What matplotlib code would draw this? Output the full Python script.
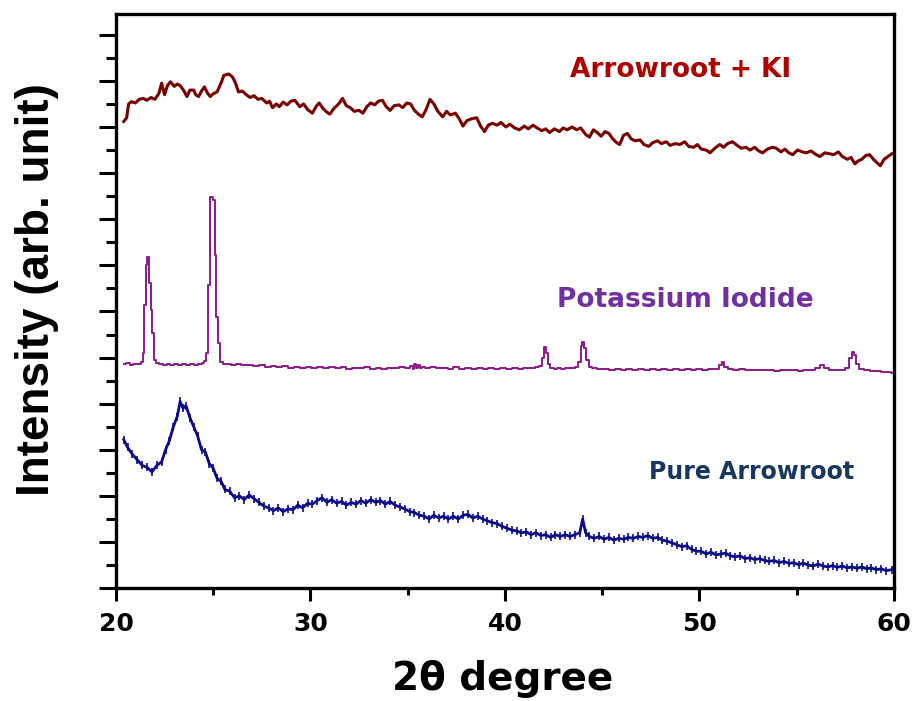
import matplotlib.pyplot as plt
from matplotlib.ticker import MultipleLocator

# 2theta (deg) and intensity (arb. unit, stacked)
ki_mix_x = [20.4, 20.55, 20.65, 20.8, 21.0, 21.2, 21.4, 21.6, 21.8, 22.0,
            22.2, 22.35, 22.5, 22.65, 22.8, 23.0, 23.15, 23.3, 23.5, 23.65,
            23.8, 24.0, 24.1, 24.25, 24.4, 24.55, 24.7, 24.85, 25.0, 25.2,
            25.4, 25.55, 25.8, 26.0, 26.15, 26.3, 26.5, 26.7, 26.9, 27.1,
            27.3, 27.5, 27.75, 27.9, 28.05, 28.25, 28.4, 28.6, 28.8, 29.0,
            29.2, 29.45, 29.65, 29.85, 30.1, 30.3, 30.45, 30.65, 30.85, 31.0,
            31.2, 31.45, 31.65, 31.85, 32.05, 32.25, 32.5, 32.7, 32.9, 33.1,
            33.3, 33.5, 33.7, 33.9, 34.1, 34.3, 34.55, 34.75, 34.95, 35.15,
            35.35, 35.55, 35.75, 35.95, 36.15, 36.35, 36.55, 36.8, 37.0, 37.2,
            37.45, 37.65, 37.85, 38.05, 38.3, 38.55, 38.75, 38.95, 39.15, 39.35,
            39.6, 39.8, 40.05, 40.25, 40.5, 40.75, 41.0, 41.2, 41.45, 41.65,
            41.9, 42.1, 42.3, 42.55, 42.8, 43.0, 43.2, 43.45, 43.7, 43.9,
            44.15, 44.35, 44.55, 44.75, 44.95, 45.15, 45.35, 45.55, 45.75, 45.9,
            46.1, 46.3, 46.5, 46.7, 46.95, 47.15, 47.4, 47.6, 47.85, 48.05,
            48.3, 48.5, 48.75, 49.0, 49.25, 49.45, 49.7, 49.9, 50.1, 50.35,
            50.55, 50.8, 51.05, 51.25, 51.45, 51.7, 51.95, 52.15, 52.4, 52.6,
            52.85, 53.05, 53.25, 53.5, 53.75, 53.95, 54.2, 54.4, 54.6, 54.8,
            55.05, 55.3, 55.5, 55.75, 56.0, 56.2, 56.45, 56.7, 56.9, 57.15,
            57.35, 57.6, 57.8, 58.0, 58.15, 58.35, 58.55, 58.75, 58.95, 59.15,
            59.3, 59.5, 59.7, 59.9]
ki_mix_y = [10.12, 10.2, 10.5, 10.55, 10.52, 10.6, 10.62, 10.58, 10.64, 10.6,
            10.72, 10.95, 10.7, 10.9, 10.98, 10.88, 10.93, 10.9, 10.78, 10.66,
            10.8, 10.8, 10.7, 10.66, 10.78, 10.87, 10.74, 10.66, 10.72, 10.76,
            10.95, 11.12, 11.15, 11.08, 10.95, 10.76, 10.78, 10.7, 10.64, 10.68,
            10.6, 10.62, 10.52, 10.56, 10.42, 10.5, 10.44, 10.54, 10.48, 10.56,
            10.58, 10.44, 10.5, 10.38, 10.3, 10.45, 10.52, 10.4, 10.32, 10.28,
            10.4, 10.5, 10.62, 10.46, 10.42, 10.34, 10.36, 10.3, 10.44, 10.52,
            10.48, 10.56, 10.58, 10.44, 10.36, 10.46, 10.48, 10.42, 10.52, 10.5,
            10.36, 10.28, 10.22, 10.38, 10.6, 10.5, 10.34, 10.22, 10.34, 10.26,
            10.3, 10.18, 10.02, 10.14, 10.18, 10.2, 10.02, 9.9, 10.04, 10.08,
            10.04, 10.1, 10.0, 10.06, 9.98, 9.94, 10.02, 9.96, 10.04, 9.98,
            9.92, 9.96, 9.88, 9.96, 9.9, 9.98, 9.94, 10.0, 9.94, 9.98,
            9.84, 9.78, 9.94, 9.88, 9.8, 9.9, 9.86, 9.74, 9.66, 9.62,
            9.82, 9.86, 9.74, 9.7, 9.72, 9.62, 9.58, 9.66, 9.7, 9.64,
            9.68, 9.6, 9.64, 9.62, 9.68, 9.58, 9.56, 9.62, 9.52, 9.5,
            9.44, 9.54, 9.62, 9.56, 9.64, 9.68, 9.6, 9.54, 9.56, 9.5,
            9.56, 9.48, 9.44, 9.52, 9.56, 9.54, 9.46, 9.52, 9.44, 9.4,
            9.5, 9.46, 9.44, 9.48, 9.4, 9.36, 9.44, 9.42, 9.4, 9.46,
            9.36, 9.3, 9.34, 9.2, 9.26, 9.3, 9.38, 9.4, 9.3, 9.22,
            9.16, 9.3, 9.36, 9.42]

ki_x = [20.4, 20.6, 20.8, 21.0, 21.2, 21.35, 21.39, 21.49, 21.59, 21.65,
        21.75, 21.85, 21.9, 22.0, 22.1, 22.3, 22.5, 22.7, 22.9, 23.1,
        23.3, 23.5, 23.7, 23.9, 24.1, 24.3, 24.5, 24.6, 24.68, 24.78,
        24.94, 25.04, 25.14, 25.19, 25.3, 25.45, 25.6, 25.8, 26.0, 26.3,
        26.6, 26.9, 27.2, 27.5, 27.8, 28.1, 28.4, 28.7, 29.0, 29.3,
        29.6, 29.9, 30.2, 30.5, 30.8, 31.1, 31.4, 31.7, 32.0, 32.3,
        32.6, 32.9, 33.2, 33.5, 33.8, 34.1, 34.4, 34.7, 35.0, 35.2,
        35.3, 35.4, 35.5, 35.6, 35.7, 35.8, 36.0, 36.3, 36.6, 36.9,
        37.2, 37.5, 37.8, 38.1, 38.4, 38.7, 39.0, 39.3, 39.6, 39.9,
        40.2, 40.5, 40.8, 41.1, 41.4, 41.7, 41.85, 41.95, 42.06, 42.15,
        42.25, 42.4, 42.6, 42.8, 43.0, 43.2, 43.5, 43.7, 43.85, 43.95,
        44.02, 44.12, 44.25, 44.4, 44.6, 44.9, 45.2, 45.5, 45.8, 46.1,
        46.4, 46.7, 47.0, 47.3, 47.6, 47.9, 48.2, 48.5, 48.8, 49.1,
        49.4, 49.7, 50.0, 50.3, 50.6, 50.9, 51.1, 51.2, 51.35, 51.6,
        51.9, 52.2, 52.5, 52.8, 53.1, 53.4, 53.7, 54.0, 54.3, 54.6,
        54.9, 55.2, 55.5, 55.8, 56.1, 56.3, 56.5, 56.8, 57.1, 57.4,
        57.6, 57.75, 57.9, 58.0, 58.15, 58.3, 58.6, 58.9, 59.2, 59.5,
        59.8, 59.95]
ki_y = [4.86, 4.88, 4.84, 4.87, 4.86, 4.9, 5.1, 6.14, 7.01, 7.18,
        6.62, 6.03, 5.53, 4.95, 4.88, 4.86, 4.84, 4.87, 4.84, 4.86,
        4.83, 4.85, 4.83, 4.86, 4.84, 4.86, 4.88, 4.92, 5.1, 6.58,
        8.49, 8.42, 7.23, 5.88, 5.32, 4.9, 4.86, 4.87, 4.84, 4.86,
        4.83, 4.84, 4.81, 4.83, 4.8, 4.82, 4.79, 4.81, 4.78, 4.8,
        4.78, 4.8, 4.77, 4.79, 4.78, 4.8, 4.77, 4.79, 4.76, 4.78,
        4.77, 4.79, 4.76, 4.78, 4.76, 4.78, 4.77, 4.79, 4.78, 4.82,
        4.76, 4.85, 4.77, 4.84, 4.78, 4.8, 4.78, 4.8, 4.77, 4.78,
        4.76, 4.79, 4.76, 4.77, 4.75, 4.78, 4.76, 4.77, 4.75, 4.77,
        4.76, 4.78, 4.76, 4.78, 4.77, 4.79, 4.82, 5.0, 5.23, 5.1,
        4.86, 4.78, 4.76, 4.77, 4.76, 4.78, 4.77, 4.8, 4.9, 5.25,
        5.34, 5.2, 4.95, 4.8, 4.77, 4.75, 4.76, 4.74, 4.76, 4.74,
        4.75, 4.74, 4.76, 4.74, 4.75, 4.73, 4.75, 4.74, 4.76, 4.74,
        4.75, 4.73, 4.75, 4.74, 4.75, 4.76, 4.84, 4.9, 4.8, 4.76,
        4.74, 4.75, 4.73, 4.72, 4.74, 4.72, 4.73, 4.71, 4.73, 4.72,
        4.73, 4.71, 4.72, 4.74, 4.78, 4.84, 4.78, 4.73, 4.72, 4.73,
        4.78, 4.98, 5.12, 5.05, 4.85, 4.76, 4.72, 4.71, 4.7, 4.69,
        4.68, 4.67]

pure_x = [20.4, 20.6, 20.85, 21.1, 21.35, 21.6, 21.85, 22.1, 22.35, 22.55,
          22.75, 22.95, 23.15, 23.3, 23.45, 23.6, 23.8, 24.0, 24.2, 24.4,
          24.6, 24.8, 25.0, 25.2, 25.4, 25.6, 25.85, 26.1, 26.35, 26.6,
          26.85, 27.1, 27.35, 27.6, 27.85, 28.1, 28.35, 28.6, 28.85, 29.1,
          29.35, 29.6, 29.85, 30.1, 30.35, 30.6, 30.85, 31.1, 31.35, 31.6,
          31.85, 32.1, 32.35, 32.6, 32.85, 33.1, 33.35, 33.6, 33.85, 34.1,
          34.35, 34.6, 34.85, 35.1, 35.35, 35.6, 35.85, 36.1, 36.35, 36.6,
          36.85, 37.1, 37.35, 37.6, 37.85, 38.1, 38.35, 38.6, 38.85, 39.1,
          39.35, 39.6, 39.85, 40.1, 40.35, 40.6, 40.85, 41.1, 41.35, 41.6,
          41.85, 42.1, 42.35, 42.6, 42.85, 43.1, 43.35, 43.6, 43.85, 44.0,
          44.15, 44.35, 44.6, 44.85, 45.1, 45.35, 45.6, 45.85, 46.1, 46.35,
          46.6, 46.85, 47.1, 47.35, 47.6, 47.85, 48.1, 48.35, 48.6, 48.85,
          49.1, 49.35, 49.6, 49.85, 50.1, 50.35, 50.6, 50.85, 51.1, 51.35,
          51.6, 51.85, 52.1, 52.35, 52.6, 52.85, 53.1, 53.35, 53.6, 53.85,
          54.1, 54.35, 54.6, 54.85, 55.1, 55.35, 55.6, 55.85, 56.1, 56.35,
          56.6, 56.85, 57.1, 57.35, 57.6, 57.85, 58.1, 58.35, 58.6, 58.85,
          59.1, 59.35, 59.6, 59.9]
pure_y = [3.22, 3.05, 2.9, 2.78, 2.66, 2.62, 2.52, 2.66, 2.74, 3.0,
          3.2, 3.5, 3.72, 4.05, 3.9, 3.96, 3.7, 3.5, 3.3, 3.0,
          2.95, 2.7, 2.6, 2.38, 2.32, 2.14, 2.1, 1.96, 2.0, 1.92,
          2.02, 1.94, 1.86, 1.78, 1.74, 1.68, 1.74, 1.66, 1.72, 1.7,
          1.8, 1.74, 1.84, 1.82, 1.9, 1.96, 1.86, 1.92, 1.84, 1.88,
          1.8, 1.86, 1.82, 1.9, 1.84, 1.92, 1.86, 1.9, 1.82, 1.88,
          1.8, 1.76, 1.72, 1.66, 1.64, 1.58, 1.56, 1.5, 1.58, 1.52,
          1.56, 1.5, 1.56, 1.5, 1.58, 1.6, 1.52, 1.56, 1.5, 1.46,
          1.42, 1.4, 1.34, 1.3, 1.26, 1.24, 1.2, 1.22, 1.16, 1.2,
          1.14, 1.16, 1.1, 1.16, 1.12, 1.16, 1.12, 1.16, 1.2, 1.5,
          1.2, 1.12, 1.08, 1.12, 1.06, 1.1, 1.04, 1.08, 1.06, 1.1,
          1.08, 1.12, 1.1, 1.14, 1.08, 1.1, 1.04, 1.02, 0.98, 0.94,
          0.9, 0.92, 0.84, 0.8, 0.8, 0.74, 0.78, 0.72, 0.74, 0.76,
          0.7, 0.68, 0.7, 0.64, 0.66, 0.62, 0.64, 0.6, 0.58, 0.6,
          0.55, 0.58, 0.54, 0.55, 0.51, 0.54, 0.5, 0.48, 0.52, 0.48,
          0.46, 0.49, 0.45, 0.48, 0.44, 0.46, 0.43, 0.46, 0.42, 0.44,
          0.4, 0.42, 0.38, 0.4]

fig, ax = plt.subplots(figsize=(9.13, 7.01), dpi=100)
fig.subplots_adjust(left=0.127, right=0.979, bottom=0.161, top=0.980)

ax.plot(ki_mix_x, ki_mix_y, color="#7a0000", lw=2.2)
ax.plot(ki_x, ki_y, color="#8b1a8b", lw=1.4, drawstyle="steps-mid")
ax.plot(pure_x, pure_y, color="#0a0a8a", lw=2.0, marker="|", ms=6, mew=1.2)

ax.text(49.05, 11.24, "Arrowroot + KI", color="#b00000", fontsize=19,
        fontweight="bold", ha="center", va="center")
ax.text(49.3, 6.25, "Potassium Iodide", color="#7030a0", fontsize=19,
        fontweight="bold", ha="center", va="center")
ax.text(52.7, 2.52, "Pure Arrowroot", color="#17375e", fontsize=17,
        fontweight="bold", ha="center", va="center")

ax.set_xlim(20, 60)
ax.set_ylim(0, 12.45)
ax.xaxis.set_major_locator(MultipleLocator(10))
ax.xaxis.set_minor_locator(MultipleLocator(5))
ax.yaxis.set_major_locator(MultipleLocator(1))
ax.yaxis.set_minor_locator(MultipleLocator(0.5))
ax.set_yticklabels([])

ax.tick_params(axis="x", which="major", direction="out", length=9, width=2.2,
               labelsize=18, pad=8)
ax.tick_params(axis="x", which="minor", direction="out", length=5, width=2.2)
ax.tick_params(axis="y", which="major", direction="out", length=12, width=2.2)
ax.tick_params(axis="y", which="minor", direction="out", length=7, width=2.2)
for lab in ax.get_xticklabels():
    lab.set_fontweight("bold")
for side in ax.spines.values():
    side.set_linewidth(2.4)

ax.set_xlabel("2θ degree", fontsize=28, fontweight="bold")
ax.xaxis.set_label_coords(0.497, -0.125)
ax.set_ylabel("Intensity (arb. unit)", fontsize=33, fontweight="bold",
              family="Liberation Sans")
ax.yaxis.set_label_coords(-0.101, 0.52)
ax.yaxis.label.set_verticalalignment("center")

fig.savefig("out.png", dpi=100)
